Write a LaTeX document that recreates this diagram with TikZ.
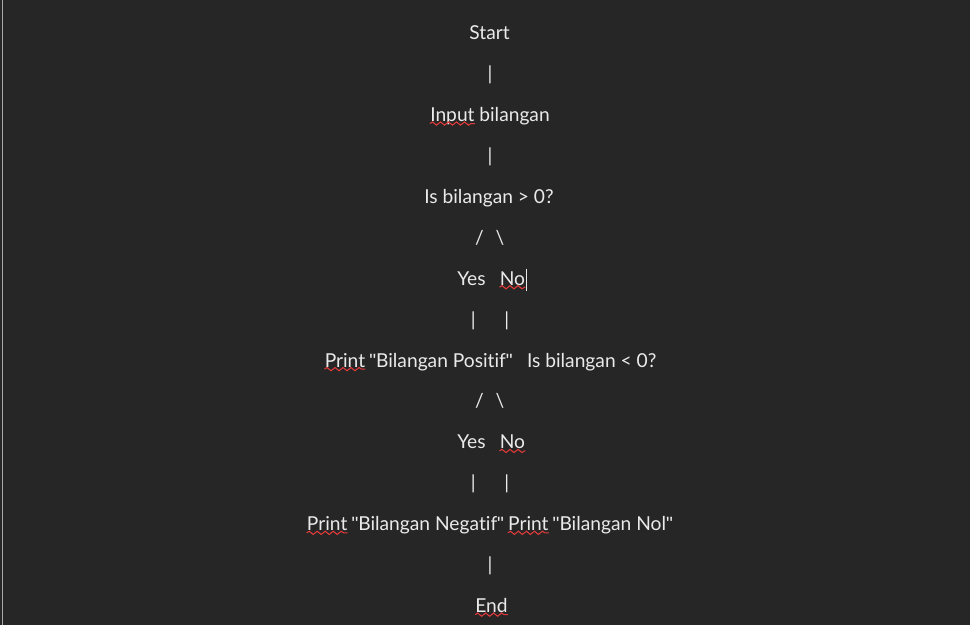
\documentclass[tikz,border=0pt]{standalone}
\usepackage{fontspec}
\setmainfont{Lato}[Ligatures={NoCommon}]
\newfontfamily\quotefont{Liberation Sans}
\usetikzlibrary{decorations.pathmorphing}
\definecolor{bg}{HTML}{262626}
\definecolor{fg}{HTML}{EAEAEA}
\definecolor{spell}{HTML}{E23A3A}
\definecolor{edge}{HTML}{A8A8A8}
\newcommand{\dq}{{\quotefont\char34}}
\begin{document}
\begin{tikzpicture}[x=0.75pt,y=-0.75pt,
  txt/.style={inner sep=0pt,anchor=base,text=fg,font=\fontsize{14.4}{18}\selectfont},
  txtl/.style={txt,anchor=base west},
  wavy/.style={draw=spell,line width=0.8pt,decorate,decoration={snake,amplitude=1.2pt,segment length=6pt}}]
\fill[bg] (0,0) rectangle (970,625);
\useasboundingbox (0,0) rectangle (970,625);
\draw[edge,line width=0.9pt] (2.2,0) -- (2.2,625);
\node[txt] (start) at (489.5,39.5) {Start};
\node[txt] (bar1) at (490,80.4) {|};
\node[txtl] (inp) at (430,121.4) {Input};
\node[txtl] (bil) at ([xshift=3.2pt]inp.base east) {bilangan};
\node[txt] (bar2) at (490,162.3) {|};
\node[txt] (q1) at (489,203.2) {Is bilangan > 0?};
\node[txt] (sl1) at (479.5,244.2) {/};
\node[txt] (bs1) at (500,244.2) {\textbackslash};
\node[txt] (yes1) at (471.5,285.1) {Yes};
\node[txtl] (no1) at (499.5,285.1) {No};
\node[txt] (bar3) at (473.3,326.0) {|};
\node[txt] (bar4) at (506.7,326.0) {|};
\node[txtl] (pr1) at (324.5,367.0) {Print};
\node[txtl] (pos) at ([xshift=2.7pt]pr1.base east) {\dq Bilangan Positif\dq};
\node[txtl] (q2) at ([xshift=10.3pt]pos.base east) {Is bilangan < 0?};
\node[txt] (sl2) at (479.5,407.9) {/};
\node[txt] (bs2) at (500,407.9) {\textbackslash};
\node[txt] (yes2) at (471.5,448.8) {Yes};
\node[txtl] (no2) at (499.5,448.8) {No};
\node[txt] (bar5) at (473.3,489.7) {|};
\node[txt] (bar6) at (506.7,489.7) {|};
\node[txtl] (pr2) at (306.7,530.7) {Print};
\node[txtl] (neg) at ([xshift=2.7pt]pr2.base east) {\dq Bilangan Negatif\dq};
\node[txtl] (pr3) at ([xshift=2.7pt]neg.base east) {Print};
\node[txtl] (nol) at ([xshift=2.7pt]pr3.base east) {\dq Bilangan Nol\dq};
\node[txt] (bar7) at (490,571.6) {|};
\node[txt] (end) at (491.5,612.5) {End};
% spell-check underlines
\foreach \w in {inp,no1,pr1,no2,pr2,pr3,end}{
  \draw[wavy] ([yshift=-1.6pt]\w.base west) -- ([yshift=-1.6pt]\w.base east);
}
% text cursor
\coordinate (cur1) at ([xshift=0.8pt,yshift=12pt]no1.base east);
\coordinate (cur2) at ([xshift=0.8pt,yshift=-4.5pt]no1.base east);
\draw[fg,line width=0.7pt] (cur1) -- (cur2);
\end{tikzpicture}
\end{document}
